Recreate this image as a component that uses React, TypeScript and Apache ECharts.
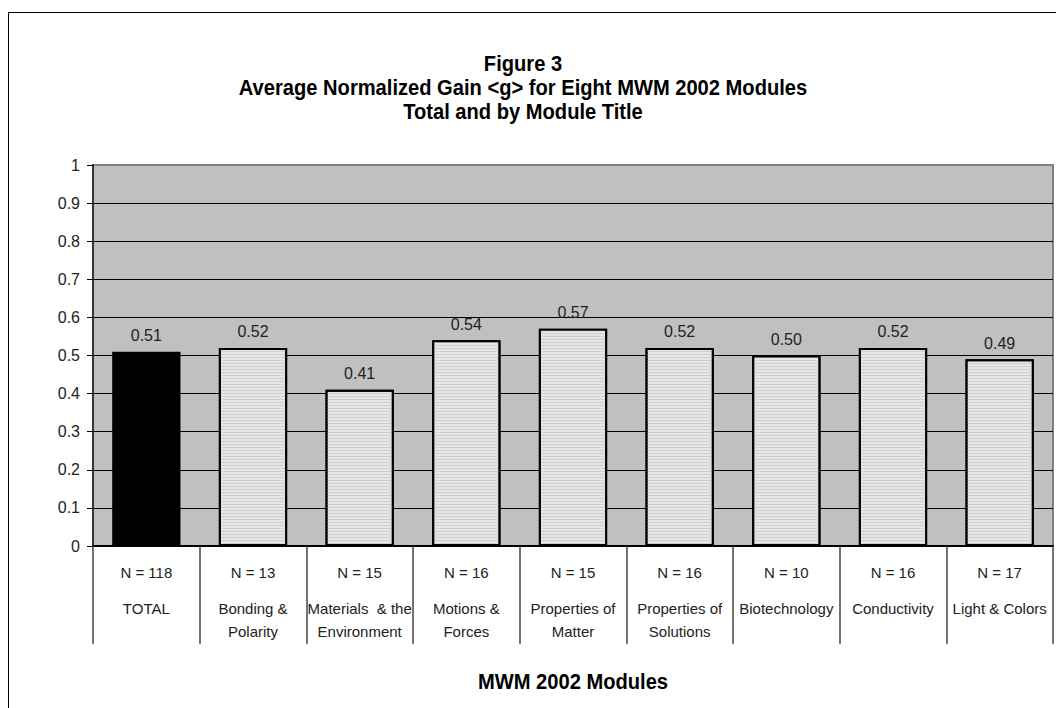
import React, { useEffect, useRef } from "react";
import * as echarts from "echarts";

const categories = [
  "TOTAL",
  "Bonding &\nPolarity",
  "Materials  & the\nEnvironment",
  "Motions &\nForces",
  "Properties of\nMatter",
  "Properties of\nSolutions",
  "Biotechnology",
  "Conductivity",
  "Light & Colors",
];
const sampleSizes = [118, 13, 15, 16, 15, 16, 10, 16, 17];
const gains = [0.51, 0.52, 0.41, 0.54, 0.57, 0.52, 0.5, 0.52, 0.49];
const titleLines = [
  "Figure 3",
  "Average Normalized Gain <g> for Eight MWM 2002 Modules",
  "Total and by Module Title",
];
const xAxisTitle = "MWM 2002 Modules";

const FONT = "'Liberation Sans Narrow', 'Arial Narrow', 'Liberation Sans', Arial, sans-serif";

export default function App() {
  const ref = useRef<HTMLDivElement>(null);
  useEffect(() => {
    document.body.style.margin = "0";
    document.body.style.overflow = "hidden";
    const chart = echarts.init(ref.current!, null, { renderer: "svg" });
    const gridLeft = 93;
    const gridRight = 3;
    const plotCenter = gridLeft + (1056 - gridLeft - gridRight) / 2;
    const splitColors = Array.from({ length: 11 }, (_, i) => (i === 10 ? "#808080" : "#000"));
    const titleStyle = (t: string) => ({
      text: t,
      fontFamily: FONT,
      fontWeight: "bold",
      fontSize: 22,
      fill: "#000",
      align: "center",
      verticalAlign: "middle",
    });
    chart.setOption({
      animation: false,
      textStyle: { fontFamily: FONT },
      grid: {
        left: gridLeft,
        right: gridRight,
        top: 165,
        bottom: 162,
        show: true,
        backgroundColor: "#c0c0c0",
        borderColor: "#808080",
        borderWidth: 2,
      },
      graphic: [
        {
          type: "rect",
          shape: { x: 8.5, y: 12.5, width: 1200, height: 800 },
          style: { fill: "none", stroke: "#000", lineWidth: 1 },
          z: -10,
          silent: true,
        },
        ...titleLines.map((t, i) => ({
          type: "text",
          x: 523,
          y: 63 + i * 24,
          scaleX: 0.915,
          style: titleStyle(t),
        })),
        {
          type: "text",
          x: plotCenter,
          y: 681,
          scaleX: 0.915,
          style: titleStyle(xAxisTitle),
        },
      ],
      xAxis: {
        type: "category",
        data: categories,
        axisLine: { show: true, lineStyle: { color: "#000", width: 2 } },
        axisTick: {
          show: true,
          interval: 0,
          length: 98,
          lineStyle: { color: "#444", width: 1.5 },
        },
        axisLabel: {
          interval: 0,
          margin: 1,
          color: "#222",
          fontFamily: FONT,
          formatter: (value: string, index: number) =>
            `{n|N = ${sampleSizes[index]}}\n` +
            value
              .split("\n")
              .map((l) => `{c|${l}}`)
              .join("\n"),
          rich: {
            n: { fontSize: 15, lineHeight: 50, fontFamily: FONT, color: "#222" },
            c: { fontSize: 15, lineHeight: 23, fontFamily: FONT, color: "#222" },
          },
        },
        splitLine: { show: false },
      },
      yAxis: {
        type: "value",
        min: 0,
        max: 1,
        interval: 0.1,
        axisLine: { show: true, lineStyle: { color: "#333", width: 2 } },
        axisTick: { show: true, length: 6, lineStyle: { color: "#000", width: 1 } },
        axisLabel: {
          margin: 13,
          fontSize: 16,
          color: "#222",
          fontFamily: FONT,
          formatter: (v: number) => (v === 0 ? "0" : v === 1 ? "1" : v.toFixed(1)),
        },
        splitLine: { show: true, lineStyle: { color: splitColors, width: 1 } },
      },
      series: [
        {
          type: "bar",
          barWidth: "64%",
          data: gains.map((v, i) =>
            i === 0
              ? { value: v, itemStyle: { color: "#000", decal: "none" } }
              : v
          ),
          itemStyle: {
            color: "#e6e6e6",
            borderColor: "#000",
            borderWidth: 2,
            decal: {
              symbol: "rect",
              symbolSize: 1,
              dashArrayX: [1, 0],
              dashArrayY: [1, 2],
              color: "#cfcfcf",
            },
          },
          label: {
            show: true,
            position: "top",
            distance: 8,
            fontSize: 16,
            color: "#222",
            fontFamily: FONT,
            formatter: (p: any) => Number(p.value).toFixed(2),
          },
        },
      ],
    });
    return () => chart.dispose();
  }, []);
  return <div ref={ref} style={{ width: 1056, height: 708 }} />;
}
